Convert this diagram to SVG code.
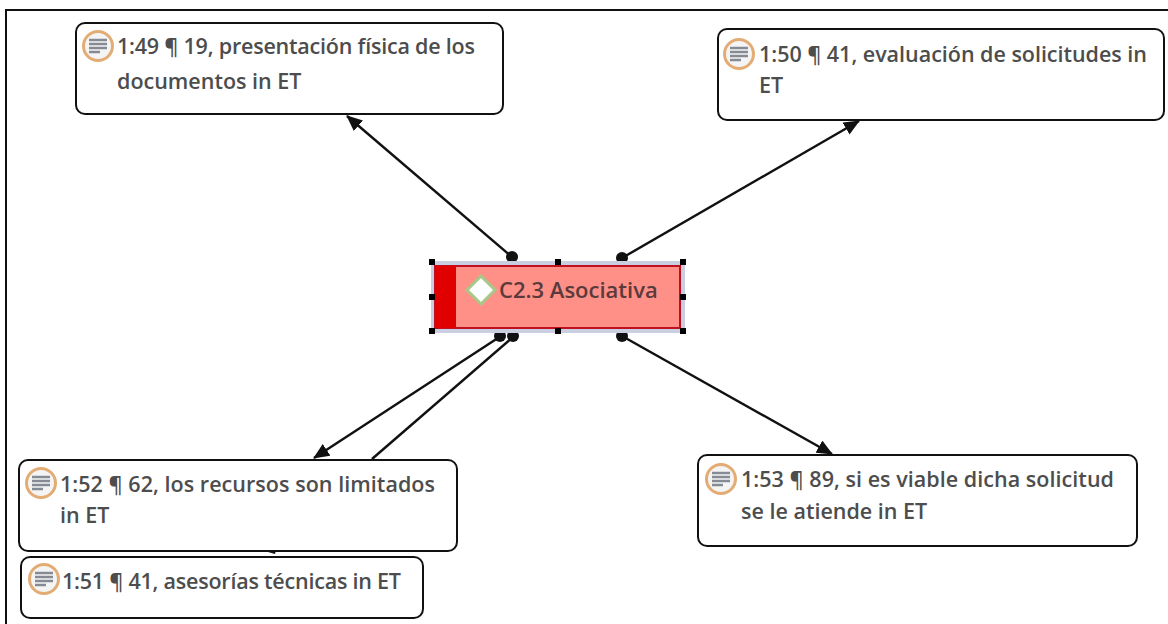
<svg xmlns="http://www.w3.org/2000/svg" width="1168" height="624" viewBox="0 0 1168 624">
<style>
.box{fill:#fff;stroke:#111;stroke-width:2}
.t{font-family:"Open Sans","Noto Sans",sans-serif;font-size:21.5px;font-weight:600;fill:#4d4d4d}
.ring{fill:#f4f4f4;stroke:#e3ac74;stroke-width:3}
.lines{stroke:#858a94;stroke-width:2.4;fill:none}
.c{stroke:#111;stroke-width:2.4;fill:none}
.m{marker-end:url(#a)}
.h{fill:#111}
</style>
<defs>
<marker id="a" viewBox="0 0 16 14" refX="15" refY="7" markerWidth="16" markerHeight="14" markerUnits="userSpaceOnUse" orient="auto"><path d="M0 0L16 7L0 14Z" fill="#111"/></marker>
<g id="ic"><circle r="14.5" class="ring"/><path class="lines" d="M-9-6H9M-9-2H9M-9 2H9M-9 6H2"/></g>
</defs>
<rect x="6" y="10" width="1170" height="630" fill="#fff" stroke="#111" stroke-width="2"/>
<g id="connectors">
<path class="c m" d="M512 257L347 116"/>
<path class="c m" d="M622 258L859 121"/>
<path class="c m" d="M501 336L314 458"/>
<path class="c" d="M513 337L372 459"/>
<path class="c m" d="M622 336L832 454"/>
<circle class="h" cx="512" cy="257" r="6"/><circle class="h" cx="622" cy="258" r="6"/>
<circle class="h" cx="500" cy="336" r="6"/><circle class="h" cx="513" cy="336" r="6"/><circle class="h" cx="622" cy="336" r="6"/>
<path class="h" d="M261 550L276 550L275 554Z"/>
</g>
<g id="n149"><rect class="box" x="76" y="23" width="427" height="91" rx="9"/><use href="#ic" x="98" y="46"/><text class="t" x="117" y="54" textLength="358">1:49 ¶ 19, presentación física de los</text><text class="t" x="117" y="89">documentos in ET</text></g>
<g id="n150"><rect class="box" x="718" y="29" width="446" height="91" rx="9"/><use href="#ic" x="739" y="54"/><text class="t" x="759" y="62" textLength="388">1:50 ¶ 41, evaluación de solicitudes in</text><text class="t" x="759" y="93">ET</text></g>
<g id="n152"><rect class="box" x="19" y="460" width="438" height="91" rx="9"/><use href="#ic" x="41" y="483"/><text class="t" x="60" y="492" textLength="375">1:52 ¶ 62, los recursos son limitados</text><text class="t" x="60" y="523">in ET</text></g>
<g id="n151"><rect class="box" x="21" y="557" width="402" height="61" rx="9"/><use href="#ic" x="44" y="579"/><text class="t" x="62" y="589" textLength="339">1:51 ¶ 41, asesorías técnicas in ET</text></g>
<g id="n153"><rect class="box" x="698" y="455" width="439" height="91" rx="9"/><use href="#ic" x="721" y="479"/><text class="t" x="741" y="487" textLength="373">1:53 ¶ 89, si es viable dicha solicitud</text><text class="t" x="741" y="519">se le atiende in ET</text></g>
<g id="c23">
<rect x="431" y="261" width="254" height="72" fill="#c9cfe0"/>
<rect x="435" y="266" width="245" height="62" fill="#ff9088" stroke="#c01020" stroke-width="2"/>
<rect x="435" y="266" width="21" height="62" fill="#e00000"/>
<path d="M481 276L495 290L481 304L467 290Z" fill="#fff" stroke="#a8c888" stroke-width="3"/>
<text x="499" y="298" font-family="'Open Sans','Noto Sans',sans-serif" font-size="22" font-weight="600" fill="#5a3a3a">C2.3 Asociativa</text>
<g fill="#000"><rect x="429" y="259" width="6" height="6"/><rect x="555" y="259" width="6" height="6"/><rect x="680" y="259" width="6" height="6"/><rect x="429" y="294" width="6" height="6"/><rect x="680" y="294" width="6" height="6"/><rect x="429" y="328" width="6" height="6"/><rect x="555" y="328" width="6" height="6"/><rect x="680" y="328" width="6" height="6"/></g>
</g>
</svg>
